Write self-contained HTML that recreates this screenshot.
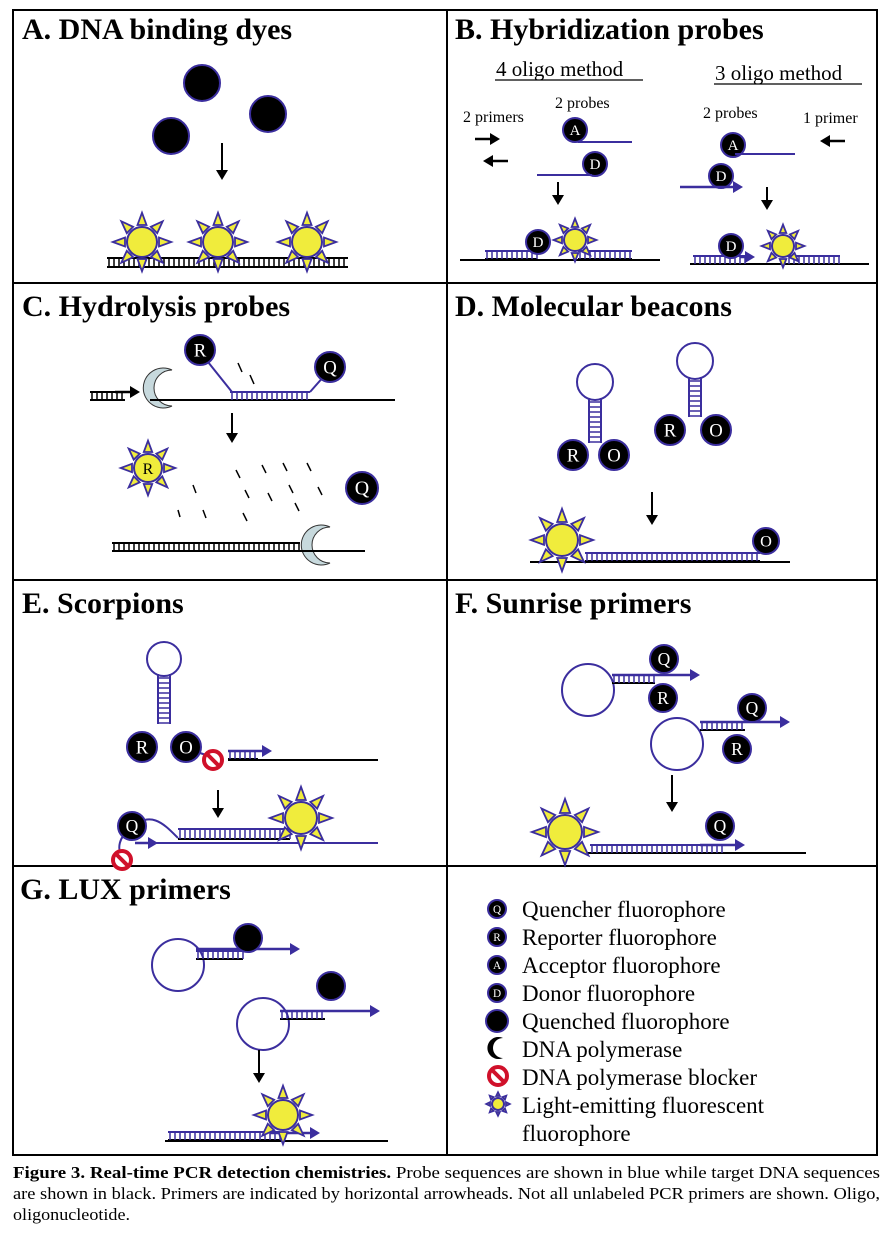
<!DOCTYPE html>
<html><head><meta charset="utf-8"><style>
html,body{margin:0;padding:0;background:#fff}
svg{display:block}
.t{font-family:"Liberation Serif",serif;font-weight:bold;font-size:30px;fill:#000}
.s{font-family:"Liberation Serif",serif;font-size:16px;fill:#000}
.lg{font-family:"Liberation Serif",serif;font-size:23px;fill:#000}
.cap{font-family:"Liberation Serif",serif;font-size:17px;fill:#000}
</style></head><body>
<svg id="fig" width="889" height="1235" viewBox="0 0 889 1235" xmlns="http://www.w3.org/2000/svg">
<g stroke="#000" stroke-width="2" fill="none">
<rect x="13" y="10" width="864" height="1145"/>
<line x1="447" y1="10" x2="447" y2="1155"/>
<line x1="13" y1="283" x2="877" y2="283"/>
<line x1="13" y1="580" x2="877" y2="580"/>
<line x1="13" y1="866" x2="877" y2="866"/>
</g>
<text class="t" x="22" y="39">A. DNA binding dyes</text>
<text class="t" x="455" y="39">B. Hybridization probes</text>
<text class="t" x="22" y="316">C. Hydrolysis probes</text>
<text class="t" x="455" y="316">D. Molecular beacons</text>
<text class="t" x="22" y="613">E. Scorpions</text>
<text class="t" x="455" y="613">F. Sunrise primers</text>
<text class="t" x="20" y="899">G. LUX primers</text>

<text x="496" y="76" font-family="Liberation Serif,serif" font-size="21">4 oligo method</text>
<line x1="495" y1="80" x2="643" y2="80" stroke="#000" stroke-width="1.2"/>
<text x="715" y="80" font-family="Liberation Serif,serif" font-size="21">3 oligo method</text>
<line x1="714" y1="84" x2="862" y2="84" stroke="#000" stroke-width="1.2"/>
<text class="s" x="463" y="122">2 primers</text>
<text class="s" x="555" y="108">2 probes</text>
<text class="s" x="703" y="118">2 probes</text>
<text class="s" x="803" y="123">1 primer</text>

<g id="draw"></g>

<g>
<text class="lg" x="522" y="917">Quencher fluorophore</text>
<text class="lg" x="522" y="945">Reporter fluorophore</text>
<text class="lg" x="522" y="973">Acceptor fluorophore</text>
<text class="lg" x="522" y="1001">Donor fluorophore</text>
<text class="lg" x="522" y="1029">Quenched fluorophore</text>
<text class="lg" x="522" y="1057">DNA polymerase</text>
<text class="lg" x="522" y="1085">DNA polymerase blocker</text>
<text class="lg" x="522" y="1113">Light-emitting fluorescent</text>
<text class="lg" x="522" y="1141">fluorophore</text>
</g>

<g>
<text class="cap" x="13" y="1178" textLength="867" lengthAdjust="spacingAndGlyphs"><tspan font-weight="bold">Figure 3. Real-time PCR detection chemistries.</tspan> Probe sequences are shown in blue while target DNA sequences</text>
<text class="cap" x="13" y="1199" textLength="867" lengthAdjust="spacingAndGlyphs">are shown in black. Primers are indicated by horizontal arrowheads. Not all unlabeled PCR primers are shown. Oligo,</text>
<text class="cap" x="13" y="1220" textLength="117" lengthAdjust="spacingAndGlyphs">oligonucleotide.</text>
</g>
</svg>
<script>
const NS="http://www.w3.org/2000/svg";
const G=document.getElementById('draw');
const B="#3b2e9e",Y="#f0ec3c";
function el(tag,a,p){const e=document.createElementNS(NS,tag);for(const k in a)e.setAttribute(k,a[k]);(p||G).appendChild(e);return e;}
function grp(name){const g=el('g',{});


return g;}
function line(g,x1,y1,x2,y2,c,w){el('line',{x1,y1,x2,y2,stroke:c||'#000','stroke-width':w||2},g);}
function arrowDown(x,y1,y2){const g=grp('process-arrow');line(g,x,y1,x,y2-8,'#000',2);el('polygon',{points:`${x-6},${y2-10} ${x+6},${y2-10} ${x},${y2}`,fill:'#000'},g);}
function arrowH(g,x1,x2,y,c){const d=x2>x1?1:-1;line(g,x1,y,x2-d*8,y,c,2.5);el('polygon',{points:`${x2-d*10},${y-6} ${x2-d*10},${y+6} ${x2},${y}`,fill:c},g);}
function sun(cx,cy,r){const g=grp('fluorescent-fluorophore');
for(let i=0;i<8;i++){const a=i*Math.PI/4-Math.PI/2;const c=Math.cos(a),s=Math.sin(a);const pc=-s,ps=c;
const b1=r+2,tip=r*1.95,hw=r*0.3;
el('polygon',{points:`${cx+c*b1+pc*hw},${cy+s*b1+ps*hw} ${cx+c*b1-pc*hw},${cy+s*b1-ps*hw} ${cx+c*tip},${cy+s*tip}`,fill:Y,stroke:B,'stroke-width':1.8},g);}
el('circle',{cx,cy,r,fill:Y,stroke:B,'stroke-width':2},g);}
function ladder(x1,x2,y,h,c){const g=grp('dna-duplex');line(g,x1,y,x2,y,c||'#000',2);line(g,x1,y+h,x2,y+h,'#000',2);
for(let x=x1+2;x<=x2;x+=5)line(g,x,y,x,y+h,c||'#000',1.5);}
function ball(cx,cy,r,t,name){const g=grp(name);el('circle',{cx,cy,r,fill:'#000',stroke:B,'stroke-width':2},g);
if(t){const tx=el('text',{x:cx,y:cy+r*0.42,'font-family':'Liberation Serif,serif','font-size':r*1.25,fill:'#fff','text-anchor':'middle'},g);tx.textContent=t;}}
function blocker(cx,cy){const g=grp('polymerase-blocker');el('circle',{cx,cy,r:9,fill:'#fff',stroke:'#d0102a','stroke-width':4},g);line(g,cx-6,cy-6,cx+6,cy+6,'#d0102a',4);}
function crescent(cx,cy,name){const g=grp(name||'dna-polymerase');el('path',{d:`M${cx+12},${cy-18} A20,20 0 1 0 ${cx+12},${cy+18} A16,16 0 0 1 ${cx+12},${cy-18}Z`,fill:'#c7d9dd',stroke:'#333','stroke-width':1},g);}
function stemLoop(cx,top,r,stemLen){const g=grp('stem-loop');el('circle',{cx,cy:top+r,r,fill:'none',stroke:B,'stroke-width':2},g);
const y0=top+2*r-2;line(g,cx-6,y0,cx-6,y0+stemLen,B,2);line(g,cx+6,y0,cx+6,y0+stemLen,B,2);
for(let y=y0+4;y<y0+stemLen;y+=5)line(g,cx-6,y,cx+6,y,B,1.5);}
function loop(cx,cy,r){const g=grp('primer-loop');el('circle',{cx,cy,r,fill:'none',stroke:B,'stroke-width':2},g);}

/* Panel A */
[[202,83],[171,136],[268,114]].forEach(p=>ball(p[0],p[1],18,'','quenched-dye'));
arrowDown(222,143,180);
ladder(107,348,258,9);
sun(142,242,15);sun(218,242,15);sun(307,242,15);

/* Panel B 4-oligo */
let g=grp('primer-arrows-4');arrowH(g,475,500,139,'#000');arrowH(g,508,483,161,'#000');
ball(575,130,12,'A','acceptor-a-4');line(grp('probe-a-4'),578,142,632,142,B,2);
ball(595,164,12,'D','donor-d-4');line(grp('probe-d-4'),537,175,592,175,B,2);
arrowDown(558,182,205);
g=grp('target-4');line(g,460,260,660,260,'#000',2);ladder(485,537,251,8,B);ladder(578,632,251,8,B);
ball(538,242,12,'D','donor-bound-4');sun(575,240,11);
/* Panel B 3-oligo */
g=grp('primer-arrow-3');arrowH(g,845,820,141,'#000');
ball(733,145,12,'A','acceptor-a-3');line(grp('probe-a-3'),735,154,795,154,B,2);
ball(721,176,12,'D','donor-d-3');g=grp('primer-d-3');arrowH(g,680,743,187,B);
arrowDown(767,187,210);
g=grp('target-3');line(g,690,264,869,264,'#000',2);ladder(693,745,256,8,B);arrowH(g,740,755,257,B);ladder(787,840,256,8,B);
ball(731,246,12,'D','donor-bound-3');sun(783,246,11);

/* Panel C */
ladder(90,125,392,8);g=grp('primer-c');arrowH(g,115,140,392,'#000');
crescent(160,388,'polymerase-c');
g=grp('target-c');line(g,150,400,395,400,'#000',2);
ladder(230,310,392,8,B);g=grp('probe-c');line(g,200,352,232,392,B,2);line(g,310,392,325,375,B,2);
ball(200,350,15,'R','reporter-c');ball(330,367,15,'Q','quencher-c');
g=grp('fragments-c');[[238,363,242,372],[250,375,254,384]].forEach(d=>line(g,...d,'#000',1.5));
arrowDown(232,413,443);
sun(148,468,14);el('text',{x:148,y:474,'font-family':'Liberation Serif,serif','font-size':16,'text-anchor':'middle'},grp('reporter-label-c')).textContent='R';
g=grp('fragments-c2');[[193,485,196,493],[203,510,206,518],[236,470,240,478],[245,490,249,498],[262,465,266,473],[268,493,272,501],[283,463,287,471],[289,485,293,493],[307,463,311,471],[318,487,322,495],[243,513,247,521],[295,503,299,511],[178,510,180,517]].forEach(d=>line(g,...d,'#000',1.5));
ball(362,488,16,'Q','quencher-free-c');
ladder(112,300,543,8);crescent(318,545,'polymerase-c2');line(grp('target-c2'),300,551,365,551,'#000',2);

/* Panel D */
stemLoop(595,364,18,45);ball(573,455,15,'R','reporter-d1');ball(614,455,15,'O','quencher-d1');
stemLoop(695,343,18,40);ball(670,430,15,'R','reporter-d2');ball(716,430,15,'O','quencher-d2');
arrowDown(652,492,525);
g=grp('target-d');line(g,530,562,790,562,'#000',2);ladder(585,760,553,8,B);
ball(766,541,13,'O','quencher-d3');sun(562,540,16);

/* Panel E */
stemLoop(164,642,17,50);ball(142,747,15,'R','reporter-e');ball(186,747,15,'O','quencher-e');
line(grp('linker-e'),200,753,215,758,B,2);blocker(213,760);
ladder(228,258,751,8,B);g=grp('primer-e');arrowH(g,228,272,751,B);line(grp('target-e'),228,760,378,760,'#000',2);
arrowDown(218,790,818);
g=grp('scorpion-bound-e');el('path',{d:'M130,830 C150,808 165,825 178,838',fill:'none',stroke:B,'stroke-width':2},g);
el('path',{d:'M124,858 C115,850 120,835 130,830',fill:'none',stroke:B,'stroke-width':2},g);
arrowH(g,135,158,843,B);line(g,155,843,378,843,B,2);
ladder(178,290,829,10,B);
ball(132,826,14,'Q','quencher-e2');blocker(122,860);sun(301,818,16);

/* Panel F */
loop(588,690,26);ladder(612,655,675,8,B);g=grp('sunrise-1');arrowH(g,612,700,675,B);
ball(663,698,14,'R','reporter-f1');ball(664,659,14,'Q','quencher-f1');
loop(677,744,26);ladder(700,745,722,8,B);g=grp('sunrise-2');arrowH(g,700,790,722,B);
ball(737,749,14,'R','reporter-f2');ball(752,708,14,'Q','quencher-f2');
arrowDown(672,775,812);
g=grp('target-f');line(g,585,853,806,853,'#000',2);ladder(590,723,845,8,B);arrowH(g,700,745,845,B);
ball(720,826,14,'Q','quencher-f3');sun(565,832,17);

/* Panel G */
loop(178,965,26);ladder(196,243,951,8,B);g=grp('lux-1');arrowH(g,196,300,949,B);ball(248,938,14,'','quenched-g1');
loop(263,1024,26);ladder(280,325,1011,8,B);g=grp('lux-2');arrowH(g,280,380,1011,B);ball(331,986,14,'','quenched-g2');
arrowDown(259,1050,1083);
g=grp('target-g');line(g,165,1141,388,1141,'#000',2);ladder(168,280,1132,8,B);arrowH(g,270,320,1133,B);
sun(283,1115,15);

/* Legend icons */
const L=[[916,'Q'],[944,'R'],[972,'A'],[1000,'D'],[1028,'']];
L.forEach(l=>ball(497,l[0]-7,l[1]?9:11,l[1],'legend-icon'));
g=grp('legend-polymerase-icon');el('path',{d:'M503,1038 A11,11 0 1 0 503,1058 A9,9 0 0 1 503,1038Z',fill:'#000'},g);
blocker(498,1076);
sun(498,1104,6);
</script>
</body></html>
